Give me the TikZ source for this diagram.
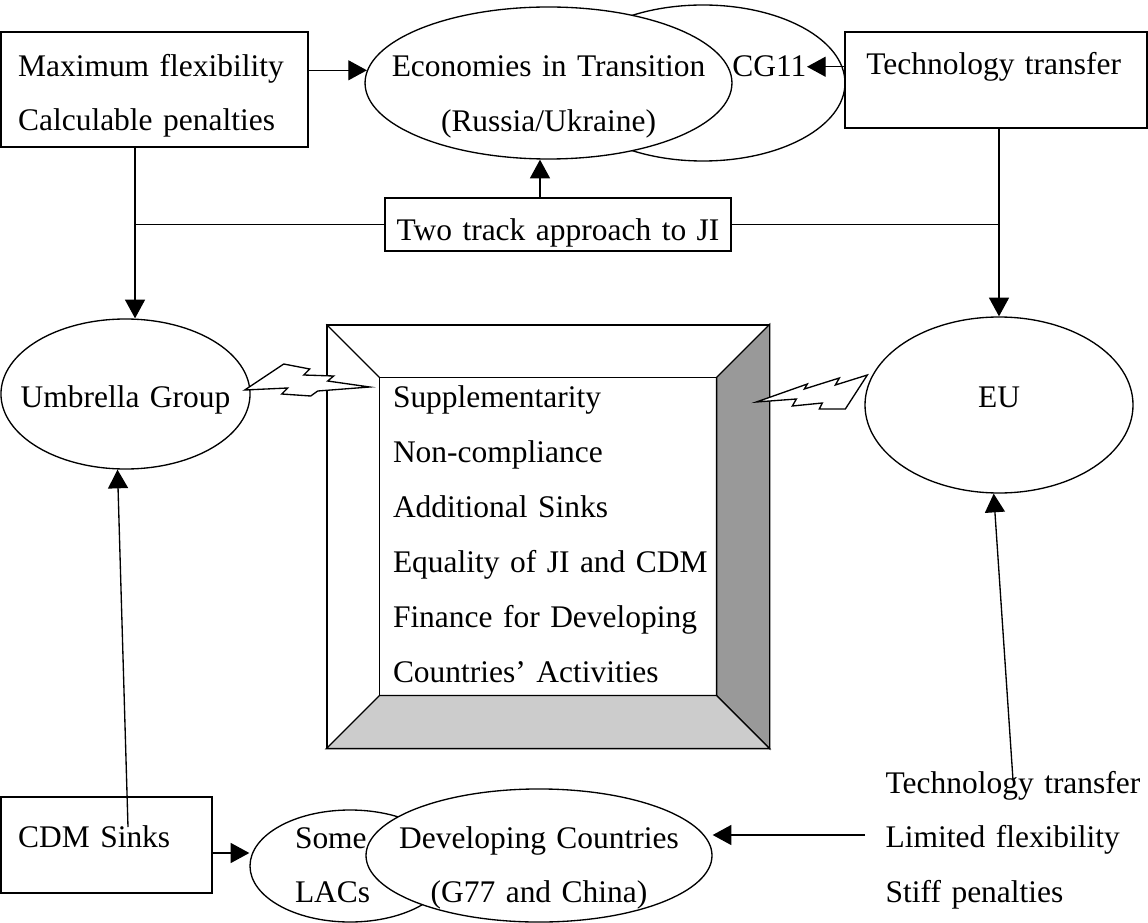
\documentclass[tikz,border=0pt]{standalone}
\usepackage{fontspec}
\setmainfont{Liberation Serif}
\usepackage{tikz}
\usetikzlibrary{shapes, arrows.meta, positioning, calc}
\definecolor{bevelside}{RGB}{153, 153, 153}
\definecolor{bevelbottom}{RGB}{204, 204, 204}

\begin{document}
\begin{tikzpicture}[x=0.375pt, y=-0.375pt, line width=0.5pt,
    font=\fontsize{11.8}{20.6}\selectfont,
    >={Triangle[length=7pt, width=7.5pt]},
    box/.style={rectangle, draw, fill=white, inner ysep=0pt, align=left},
    bloc/.style={ellipse, draw, fill=white, inner ysep=0pt, inner xsep=-12pt, align=center},
    bolt/.style={draw, fill=white, line join=miter}]

    \useasboundingbox (0,0) rectangle (1148,923);

    % Open issues (bevelled box)
    \node[box, text width=116.25pt, inner xsep=24.75pt, text height=31.1pt, text depth=127.5pt] (issues) at (548,536.5) {Supplementarity\\ Non-compliance\\ Additional Sinks\\ \mbox{Equality of JI and CDM}\\ Finance for Developing\\ Countries' Activities};
    \coordinate (inNW) at ($(issues.north west)+(19.9pt,-19.9pt)$);
    \coordinate (inNE) at ($(issues.north east)+(-19.9pt,-19.9pt)$);
    \coordinate (inSW) at ($(issues.south west)+(19.9pt,19.9pt)$);
    \coordinate (inSE) at ($(issues.south east)+(-19.9pt,19.9pt)$);
    \filldraw[fill=bevelside] (issues.north east) -- (issues.south east) -- (inSE) -- (inNE) -- cycle;
    \filldraw[fill=bevelbottom] (issues.south west) -- (issues.south east) -- (inSE) -- (inSW) -- cycle;
    \draw (inNW) rectangle (inSE);
    \draw (issues.north west) -- (inNW);

    % Economies in transition and CG11
    \node[bloc, minimum width=106.5pt, minimum height=58.5pt] (cg) at (703,83) {};
    \node[bloc, text width=118pt, minimum width=137.6pt, minimum height=57pt, text height=0pt, text depth=4.5pt] (econ) at (548.5,83) {Economies in Transition\\ (Russia/Ukraine)};
    \node[anchor=base east, inner sep=0pt] (cg11) at (807,77) {CG11};

    % Negotiating groups
    \node[bloc, text width=80pt, minimum width=93.4pt, minimum height=56.25pt, text height=9.75pt, text depth=0pt] (umbrella) at (125.5,394) {Umbrella Group};
    \node[bloc, text width=30pt, minimum width=100.5pt, minimum height=66pt, text height=1.5pt, text depth=0pt] (eu) at (999,405) {EU};
    \node[bloc, text width=41.25pt, align=left, minimum width=75pt, minimum height=42pt, text height=0pt, text depth=13.5pt] (lacs) at (350,866) {Some\\ LACs};
    \node[bloc, text width=110pt, minimum width=129.75pt, minimum height=49.9pt, text height=0pt, text depth=5.6pt] (devc) at (539,855.5) {Developing Countries\\ (G77 and China)};

    % Positions
    \node[box, text width=102.3pt, inner xsep=6.4pt, text height=16.5pt, text depth=26.6pt] (flex) at (154.5,89.5) {Maximum flexibility\\ Calculable penalties};
    \node[box, text width=97.25pt, inner xsep=8pt, text height=16.1pt, text depth=19.9pt] (tech) at (996,80) {Technology transfer};
    \node[box, align=center, text width=121.75pt, inner xsep=4pt, text height=15.75pt, text depth=4.1pt] (track) at (558,224.5) {Two track approach to JI};
    \node[box, text width=66.3pt, inner xsep=6.4pt, text height=19.1pt, text depth=16.9pt] (cdm) at (106.5,845) {CDM Sinks};
    \node[anchor=base west, inner sep=0pt, text width=100pt, align=left] (eudemands) at (885,793) {Technology transfer\\ Limited flexibility\\ Stiff penalties};

    \coordinate (flexdrop) at ([xshift=-7.3pt]flex.south);
    \coordinate (trackrise) at ([xshift=-6.75pt]track.north);
    \coordinate (cdmout) at ([yshift=-3pt]cdm.east);
    \coordinate (ugtail) at (128,827);
    \coordinate (eutail) at (1013,780);
    \coordinate (dctail) at (865,835);

    % Conflicts
    \draw[bolt] ([shift={(-6,-4)}]umbrella.east) -- ++(39,-26) -- ++(26,5) -- ++(-6,6) -- ++(30,1) -- ++(-6,5) -- ++(42,6) -- ++(-52,4) -- ++(-7,5) -- ++(-29,-2) -- ++(6,-6) -- cycle;
    \draw[bolt] ([shift={(3,-30)}]eu.west) -- ++(-22,34) -- ++(-26,0) -- ++(3,-6) -- ++(-30,3) -- ++(4,-7) -- ++(-40,3) -- ++(51,-18) -- ++(-3,5) -- ++(35,-11) -- ++(-4,7) -- cycle;

    % Connections
    \draw[->] (econ.176 -| flex.east) -- (econ.176);
    \draw[->] (tech.west |- cg11.east) -- (cg11.east);
    \draw[->] (trackrise) -- (trackrise |- econ.south);
    \draw[->] (flexdrop) -- (flexdrop |- umbrella.north);
    \draw (flexdrop |- track.west) -- (track.west);
    \draw[->] (tech.south -| eu.north) -- (eu.north);
    \draw (track.east) -- (track.east -| eu.north);
    \draw[->] (cdmout) -- (cdmout -| lacs.west);
    \draw[->] (ugtail) -- ([xshift=-3pt]umbrella.south);
    \draw[->] (eutail) -- ([xshift=-2pt]eu.south);
    \draw[->] (dctail) -- (dctail -| devc.east);
\end{tikzpicture}
\end{document}
